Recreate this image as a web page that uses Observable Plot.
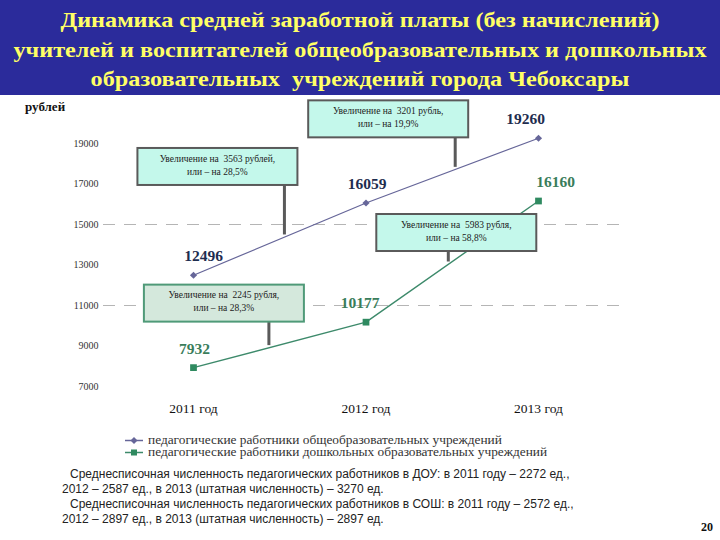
<!DOCTYPE html>
<html><head><meta charset="utf-8">
<script src="https://cdn.jsdelivr.net/npm/d3@7"></script>
<script src="https://cdn.jsdelivr.net/npm/@observablehq/plot@0.6"></script>
<style>
body{margin:0;width:720px;height:540px;position:relative;background:#fff;overflow:hidden}
#title{position:absolute;left:0;top:0;width:720px;height:95px;background:#2b2b9b;color:#ffff66;font:bold 22px 'Liberation Serif',serif;text-align:center;line-height:29.5px;padding-top:5px;box-sizing:border-box}
#title div{transform:scaleX(1.1);transform-origin:360px 50%;white-space:pre}
#unit{position:absolute;left:25px;top:99px;font:bold 13px 'Liberation Serif',serif;color:#111}
#chart{position:absolute;left:0;top:95px}
#legend{position:absolute;left:125px;top:434px;font:11.5px 'Liberation Serif',serif;color:#333}
#legend .row{height:12px;line-height:12px;white-space:nowrap;display:flex;align-items:center}
#legend svg{margin-right:5px}
#legend span{display:inline-block;transform:scaleX(1.16);transform-origin:0 50%}
#notes{position:absolute;left:62px;top:467px;font:12px 'Liberation Sans',Arial,sans-serif;color:#222;line-height:15px;white-space:nowrap}
#notes .ind{padding-left:8px}
#page{position:absolute;right:7px;top:520px;font:bold 12px 'Liberation Serif',serif;color:#111}
</style></head>
<body>
<div id="title"></div>
<div id="unit"></div>
<div id="chart"></div>
<div id="legend"></div>
<div id="notes"></div>
<div id="page"></div>
<script>
// ---- data ----
const titleLines = ["Динамика средней заработной платы (без начислений)","учителей и воспитателей общеобразовательных и дошкольных","образовательных  учреждений города Чебоксары"];
const unitLabel = "рублей";
const years = [2011, 2012, 2013];
const yearSuffix = " год";
const schoolSalary = [12496, 16059, 19260];
const preschoolSalary = [7932, 10177, 16160];
const seriesNames = ["педагогические работники общеобразовательных учреждений","педагогические работники дошкольных образовательных учреждений"];
const yTicks = [7000, 9000, 11000, 13000, 15000, 17000, 19000];
const gridValues = [11000, 15000];
const increaseAmounts = ["3563 рублей", "3201 рубль", "2245 рубля", "5983 рубля"];
const increasePercents = ["28,5%", "19,9%", "28,3%", "58,8%"];
const douStaff = [2272, 2587, 3270];
const soshStaff = [2572, 2897, 2897];
const pageNumber = "20";

// ---- styles ----
const colors = ["#666699", "#3d8a6b"];
const dotColors = ["#666699", "#2f8a60"];
const labelColors = ["#1e2d4f", "#3a7d5b"];
const symbols = ["diamond2", "square"];
const radii = [3.2, 3.8];
const labelDx = [[10, 1, -13], [1, -6, 17]];

// callouts: series, segment, fraction along segment; box offset from anchor (layout only)
const calloutDefs = [
  {s:0, seg:0, t:0.53, dx:-67, dy:-70, fill:"#c4f8eb", stroke:"#5a5a5a"},
  {s:0, seg:1, t:0.52, dx:-67, dy:-50, fill:"#c4f8eb", stroke:"#5a5a5a"},
  {s:1, seg:0, t:0.44, dx:-45, dy:-44, fill:"#d4e8dc", stroke:"#4f9a78"},
  {s:1, seg:1, t:0.48, dx:8, dy:-31, fill:"#c4f8eb", stroke:"#5a5a5a"}
];

// ---- html text ----
document.getElementById("title").innerHTML = titleLines.map(l => `<div>${l}</div>`).join("");
document.getElementById("unit").textContent = unitLabel;
document.getElementById("page").textContent = pageNumber;
document.getElementById("notes").innerHTML =
  `<div class="ind">Среднесписочная численность педагогических работников в ДОУ: в ${years[0]} году – ${douStaff[0]} ед.,</div>` +
  `<div>${years[1]} – ${douStaff[1]} ед., в ${years[2]} (штатная численность) – ${douStaff[2]} ед.</div>` +
  `<div class="ind">Среднесписочная численность педагогических работников в СОШ: в ${years[0]} году – ${soshStaff[0]} ед.,</div>` +
  `<div>${years[1]} – ${soshStaff[1]} ед., в ${years[2]} (штатная численность) – ${soshStaff[2]} ед.</div>`;

const legendSymbol = i => i === 0
  ? `<polygon points="9,2 12.5,5.5 9,9 5.5,5.5" fill="${dotColors[0]}"/>`
  : `<rect x="6" y="2.5" width="6" height="6" fill="${dotColors[1]}"/>`;
document.getElementById("legend").innerHTML = seriesNames.map((n,i) =>
  `<div class="row"><svg width="18" height="11"><line x1="0" x2="18" y1="5.5" y2="5.5" stroke="${colors[i]}" stroke-width="1.5"/>${legendSymbol(i)}</svg><span>${n}</span></div>`).join("");

// ---- chart ----
const seriesValues = [schoolSalary, preschoolSalary];
const rows = seriesValues.flatMap((vals, s) => vals.map((v, i) => ({year: years[i], value: v, s, i})));

function callouts(index, scales) {
  const x = scales.x, y = scales.y;
  const g = d3.create("svg:g");
  calloutDefs.forEach((c, k) => {
    const vals = seriesValues[c.s];
    const yr = years[c.seg] + c.t * (years[c.seg+1] - years[c.seg]);
    const val = vals[c.seg] + c.t * (vals[c.seg+1] - vals[c.seg]);
    const px = x(yr), py = y(val);
    const w = 160, h = 37;
    const cx = px + c.dx, cy = py + c.dy;
    g.append("line").attr("x1", px).attr("x2", px).attr("y1", cy + h/2).attr("y2", py - 2)
      .attr("stroke", "#5a5a5a").attr("stroke-width", 3);
    g.append("rect").attr("x", cx - w/2).attr("y", cy - h/2).attr("width", w).attr("height", h)
      .attr("fill", c.fill).attr("stroke", c.stroke).attr("stroke-width", 2);
    const lines = [`Увеличение на  ${increaseAmounts[k]},`, `или – на ${increasePercents[k]}`];
    lines.forEach((l, j) => {
      g.append("text").attr("x", cx).attr("y", cy - 7 + j*13).attr("text-anchor", "middle")
        .attr("dominant-baseline", "middle").attr("font-size", 9.5).attr("fill", "#222")
        .style("white-space", "pre").text(l);
    });
  });
  return g.node();
}

const chart = Plot.plot({
  width: 720, height: 335,
  marginLeft: 103, marginRight: 97, marginTop: 48, marginBottom: 44,
  x: {type: "linear", domain: [years[0], years[years.length-1]], insetLeft: 90, insetRight: 85},
  y: {domain: [yTicks[0], yTicks[yTicks.length-1]]},
  style: {fontFamily: "'Liberation Serif', serif", background: "transparent", overflow: "visible"},
  marks: [
    Plot.ruleY(gridValues, {stroke: "#b5b5b5", strokeDasharray: "12,9", strokeWidth: 1}),
    Plot.axisY({ticks: yTicks, tickSize: 0, tickPadding: 5, label: null, fontSize: 10, color: "#333", tickFormat: d => String(d)}),
    Plot.axisX({ticks: years, tickSize: 0, tickPadding: 17, label: null, fontSize: 13.5, color: "#111", tickFormat: d => d + yearSuffix}),
    ...[0,1].map(s => Plot.line(rows.filter(r => r.s === s), {x: "year", y: "value", stroke: colors[s], strokeWidth: s ? 1.4 : 1.2})),
    callouts,
    ...[0,1].map(s => Plot.dot(rows.filter(r => r.s === s), {x: "year", y: "value", symbol: symbols[s], r: radii[s], fill: dotColors[s]})),
    ...[0,1].flatMap(s => rows.filter(r => r.s === s).map(r => Plot.text([r], {x: "year", y: "value", text: d => String(d.value), dx: labelDx[s][r.i], dy: -19, fontSize: 15.5, fontWeight: "bold", fill: labelColors[s]})))
  ]
});
document.getElementById("chart").appendChild(chart);
</script>
</body></html>
